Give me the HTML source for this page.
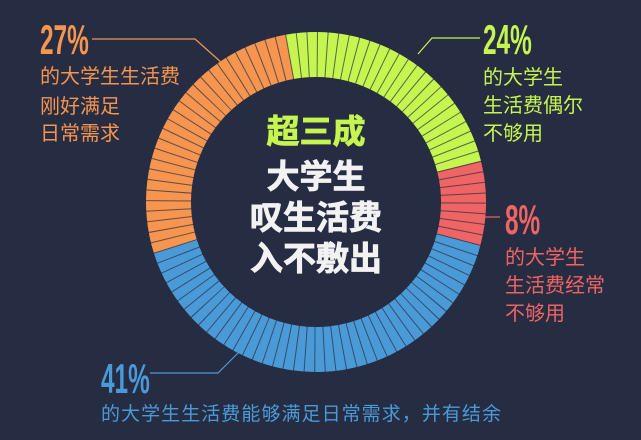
<!DOCTYPE html>
<html><head><meta charset="utf-8"><style>
html,body{margin:0;padding:0;background:#262c42;}
svg{display:block}
.cn{font-family:"Liberation Sans","Noto Sans CJK SC",sans-serif;}
.pct{font-family:"Liberation Sans Narrow","Liberation Sans",sans-serif;font-weight:bold;}
</style></head><body>
<svg width="641" height="440" viewBox="0 0 641 440" xmlns="http://www.w3.org/2000/svg">
<rect width="641" height="440" fill="#262c42"/>
<g>
<path d="M285.31,34.79 A170 170 0 0 1 480.95,160.88 L437.29,171.76 A125 125 0 0 0 293.44,79.05 Z" fill="#c6f550"/>
<path d="M480.95,160.88 A170 170 0 0 1 480.36,245.42 L436.85,233.93 A125 125 0 0 0 437.29,171.76 Z" fill="#ef6464"/>
<path d="M480.36,245.42 A170 170 0 0 1 153.96,253.41 L196.85,239.8 A125 125 0 0 0 436.85,233.93 Z" fill="#4b9ad8"/>
<path d="M153.96,253.41 A170 170 0 0 1 285.31,34.79 L293.44,79.05 A125 125 0 0 0 196.85,239.8 Z" fill="#f5954f"/>
<circle cx="316" cy="202" r="147.5" fill="none" stroke="rgba(38,44,66,0.7)" stroke-width="46" stroke-dasharray="1 8.2677" stroke-dashoffset="-0.53"/>
</g>
<g fill="none" stroke-width="1.2">
<polyline points="92,39 195,39 222,63" stroke="#f5954f"/>
<polyline points="480,38 432,38 418,54" stroke="#c6f550"/>
<polyline points="484,217 500,217" stroke="#ef6464"/>
<polyline points="150,373 218,373 238,353" stroke="#4b9ad8"/>
</g>
<g class="cn" font-weight="bold" font-size="33" text-anchor="middle" stroke-width="0.8">
<text x="316" y="143" fill="#c6f550" stroke="#c6f550">超三成</text>
<text x="316" y="188" fill="#f2f2f2" stroke="#f2f2f2">大学生</text>
<text x="316" y="229" fill="#f2f2f2" stroke="#f2f2f2">叹生活费</text>
<text x="316" y="270" fill="#f2f2f2" stroke="#f2f2f2">入不敷出</text>
</g>
<g class="pct" font-size="42">
<text fill="#f5954f" transform="translate(40 54) scale(0.58 1)">27%</text>
<text fill="#c6f550" transform="translate(483 54) scale(0.58 1)">24%</text>
<text fill="#ef6464" transform="translate(505 234) scale(0.58 1)">8%</text>
<text fill="#4b9ad8" transform="translate(101 393) scale(0.58 1)">41%</text>
</g>
<g class="cn" font-size="20">
<g fill="#f5954f">
<text x="40" y="83">的大学生生活费</text>
<text x="40" y="113">刚好满足</text>
<text x="40" y="140">日常需求</text>
</g>
<g fill="#c6f550">
<text x="483" y="84">的大学生</text>
<text x="483" y="112">生活费偶尔</text>
<text x="483" y="140">不够用</text>
</g>
<g fill="#ef6464">
<text x="505" y="264">的大学生</text>
<text x="505" y="292">生活费经常</text>
<text x="505" y="320">不够用</text>
</g>
<text x="101" y="420" fill="#4b9ad8" font-size="19" textLength="400">的大学生生活费能够满足日常需求，并有结余</text>
</g>
</svg>
</body></html>
